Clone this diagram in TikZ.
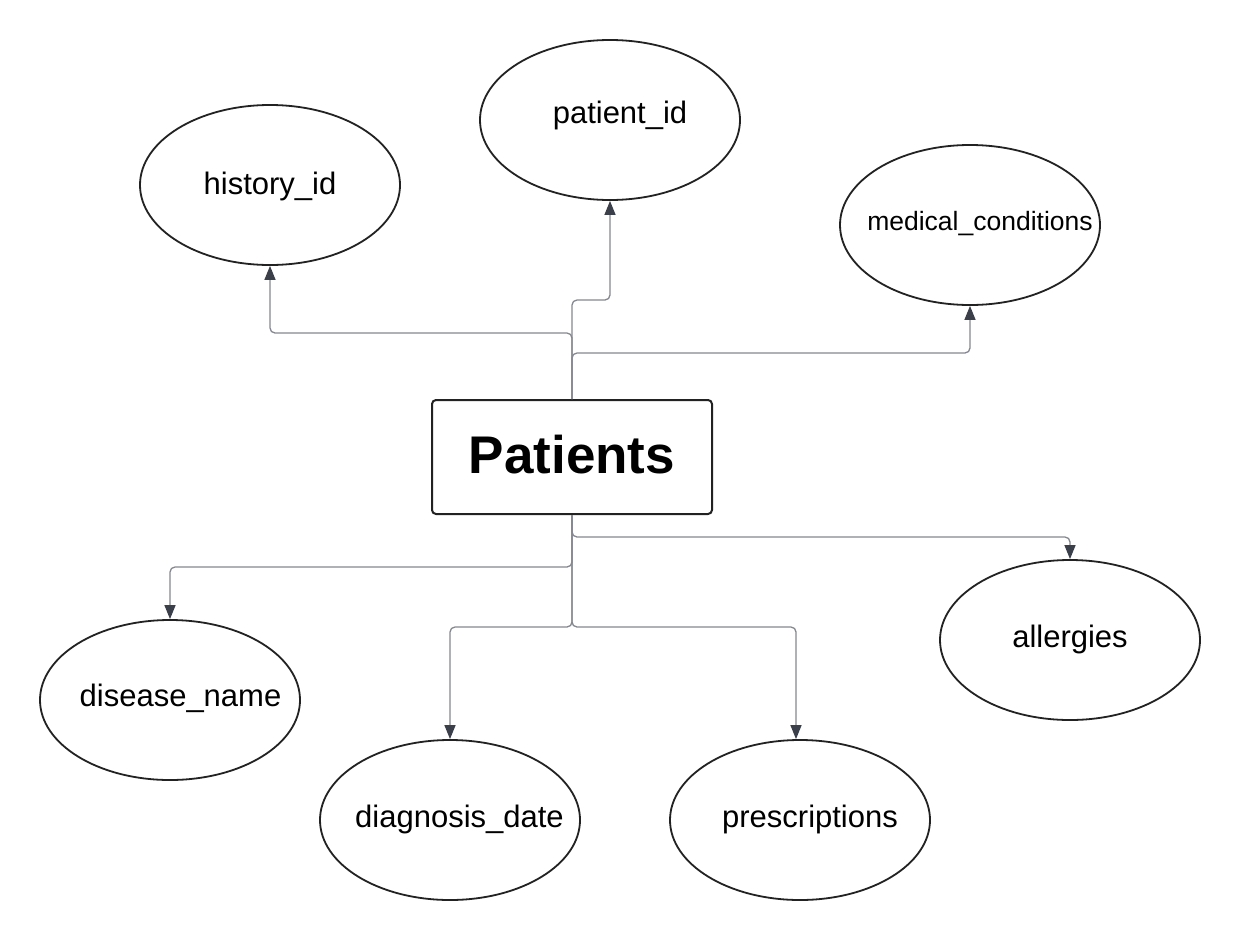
\documentclass[tikz,border=0pt]{standalone}
\usepackage{fontspec}
\setmainfont{Liberation Sans}
\usetikzlibrary{shapes.geometric,arrows.meta}
\definecolor{edgec}{HTML}{222222}
\definecolor{connc}{HTML}{858890}
\definecolor{tipc}{HTML}{3A3F4A}
\tikzset{
  attr/.style={ellipse,draw=edgec,line width=1.8pt,minimum width=260pt,minimum height=160pt,inner sep=0pt},
  lbl/.style={font=\fontsize{31}{37}\selectfont,inner sep=0pt,text=black},
  entity/.style={rectangle,draw=edgec,line width=2pt,rounded corners=4pt,minimum width=280pt,minimum height=114pt,inner sep=0pt},
  conn/.style={draw=connc,line width=1.3pt,rounded corners=5pt,-{Triangle[length=14pt,width=11pt,fill=tipc,color=tipc]}}
}
\begin{document}
\begin{tikzpicture}[x=1pt,y=-1pt]
\useasboundingbox[fill=white] (0,0) rectangle (1240,940);
% entity
\node[entity] (P) at (572,457) {};
\node[font=\bfseries\fontsize{53}{61}\selectfont,inner sep=0pt] (Pt) at (572,455) {Patients};
% attributes
\node[attr] (h) at (270,185) {};
\node[lbl] (ht) at (270,186) {history\_id};
\node[attr] (pid) at (610,120) {};
\node[lbl] (pidt) at (620,115) {patient\_id};
\node[attr] (mc) at (970,225) {};
\node[lbl,font=\fontsize{26.5}{31}\selectfont] (mct) at (980,224) {medical\_conditions};
\node[attr] (dn) at (170,700) {};
\node[lbl] (dnt) at (180.5,698) {disease\_name};
\node[attr] (dd) at (450,820) {};
\node[lbl] (ddt) at (459.5,819) {diagnosis\_date};
\node[attr] (pr) at (800,820) {};
\node[lbl] (prt) at (810,819) {prescriptions};
\node[attr] (al) at (1070,640) {};
\node[lbl] (alt) at (1070,639) {allergies};
% connectors
\coordinate (c1) at (572,333);
\coordinate (c2) at (572,300);
\coordinate (c3) at (572,353);
\coordinate (c4) at (572,537);
\coordinate (c5) at (572,567);
\coordinate (c6) at (572,627);
\draw[conn] (P.north) -- (c1) -| (h.south);
\draw[conn] (P.north) -- (c2) -| (pid.south);
\draw[conn] (P.north) -- (c3) -| (mc.south);
\draw[conn] (P.south) -- (c4) -| (al.north);
\draw[conn] (P.south) -- (c5) -| (dn.north);
\draw[conn] (P.south) -- (c6) -| (dd.north);
\draw[conn] (P.south) -- (c6) -| ([xshift=-4pt]pr.north);
\end{tikzpicture}
\end{document}
